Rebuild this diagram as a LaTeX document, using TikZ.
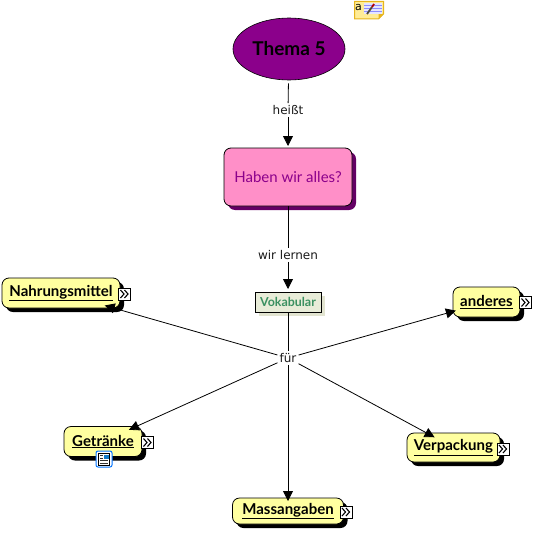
\documentclass[tikz,border=0pt]{standalone}
\usepackage{fontspec}
\setmainfont{DejaVu Sans}
\newfontfamily\comicfont{Lato}
\usetikzlibrary{arrows.meta,shadows,shapes.geometric}

\tikzset{
  linkword/.style={font=\fontsize{12}{14}\selectfont, inner sep=2pt, text=black!90},
  topicbox/.style={draw=black, line width=0.8pt, fill={rgb,255:red,255;green,255;blue,160}, rounded corners=7pt,
    inner sep=0pt, outer sep=0pt, font=\comicfont\fontsize{15}{17}\selectfont\bfseries,
    drop shadow={shadow xshift=4pt, shadow yshift=-4pt, fill=black, opacity=1}},
  conn/.style={draw=black, line width=0.8pt, -{Triangle[length=10pt,width=10pt]}},
  moreicon/.pic={
    \draw[black, fill=white, line width=0.8pt] (-6,-6) rectangle (6,6);
    \draw[black, line width=1.1pt] (-4,-4) -- (-0.5,0) -- (-4,4);
    \draw[black, line width=1.1pt] (0,-4) -- (3.5,0) -- (0,4);
  },
}

\begin{document}
\begin{tikzpicture}[x=1pt, y=-1pt]
  \useasboundingbox (0,0) rectangle (534,532);

  % --- top of the map ---
  \node[ellipse, draw=black, line width=0.6pt, fill={rgb,255:red,139;green,0;blue,139}, inner sep=0pt,
        minimum width=112pt, minimum height=62pt,
        font=\comicfont\fontsize{19}{22}\selectfont\bfseries] (thema) at (289,49) {Thema 5};
  \node[linkword] (heisst) at (288,110) {heißt};
  \node[draw=black, line width=0.8pt, fill={rgb,255:red,255;green,143;blue,200}, rounded corners=7pt,
        minimum width=128pt, minimum height=58pt, inner sep=0pt, outer sep=0pt,
        text={rgb,255:red,139;green,0;blue,139}, font=\comicfont\fontsize{15}{17}\selectfont,
        drop shadow={shadow xshift=4pt, shadow yshift=-4pt, fill={rgb,255:red,100;green,0;blue,100}, opacity=1}]
        (haben) at (288,177) {Haben wir alles?};
  \node[linkword] (lernen) at (288,255) {wir lernen};
  \node[draw=black, line width=0.7pt, fill={rgb,255:red,232;green,236;blue,216},
        minimum width=66pt, minimum height=20pt, inner sep=0pt, outer sep=0pt,
        text={rgb,255:red,58;green,144;blue,96}, font=\comicfont\fontsize{12.4}{14}\selectfont\bfseries,
        drop shadow={shadow xshift=4pt, shadow yshift=-4pt, fill={rgb,255:red,226;green,228;blue,208}, opacity=1}]
        (vokabular) at (288,302) {Vokabular};
  \node[linkword] (fuer) at (288,358) {für};

  % --- the five topics ---
  \node[topicbox, minimum width=118pt, minimum height=30pt] (nahrung) at (61,293) {\underline{Nahrungsmittel}};
  \node[topicbox, minimum width=78pt, minimum height=30pt] (getraenke) at (103,441.5) {\underline{Getränke}};
  \node[topicbox, minimum width=67pt, minimum height=30pt] (anderes) at (486.5,302) {\underline{anderes}};
  \node[topicbox, minimum width=93pt, minimum height=29pt] (verpackung) at (453.5,447.5) {\underline{Verpackung}};
  \node[topicbox, minimum width=111pt, minimum height=26pt] (massangaben) at (288,511) {\underline{Massangaben}};

  % --- connectors ---
  \draw[line width=0.8pt, shorten <=3pt] (thema) -- (heisst);
  \draw[line width=0.8pt] (haben) -- (lernen);
  \draw[line width=0.8pt] (vokabular) -- (fuer);
  \draw[conn, shorten >=2pt] (heisst) -- (haben);
  \draw[conn, shorten >=3pt] (lernen) -- (vokabular);
  \draw[conn, shorten >=-9pt] (fuer) -- (nahrung);
  \draw[conn, shorten >=-8pt] (fuer) -- (getraenke);
  \draw[conn, shorten >=-3pt] (fuer) -- (anderes);
  \draw[conn, shorten >=-9pt] (fuer) -- (verpackung);
  \draw[conn, shorten >=-3pt] (fuer) -- (massangaben);

  % --- expand marks ---
  \pic at (124.5,294) {moreicon};
  \pic at (147.5,442.5) {moreicon};
  \pic at (525.5,302.5) {moreicon};
  \pic at (503,449) {moreicon};
  \pic at (346,512) {moreicon};

  % --- page mark under Getränke ---
  \draw[blue!55!cyan, fill=white, line width=1pt, rounded corners=2pt] (96,451) rectangle (112,467);
  \draw[black, fill=white, line width=0.6pt] (98.5,453) rectangle (109.5,465);
  \fill[cyan!60!blue] (104,454.5) rectangle (108.5,458.5);
  \draw[black!80, line width=0.6pt] (100,455.5) -- (103,455.5) (100,458) -- (103,458)
    (100,460.5) -- (108,460.5) (100,462.8) -- (108,462.8);

  % --- note mark at the top ---
  \draw[draw={rgb,255:red,230;green,180;blue,30}, fill={rgb,255:red,255;green,236;blue,150}, line width=1pt]
    (354.5,1.5) -- (383.5,1.5) -- (383.5,14) -- (378.5,19) -- (354.5,19) -- cycle;
  \fill[fill={rgb,255:red,230;green,180;blue,30}] (378.5,19) -- (378.5,14) -- (383.5,14) -- cycle;
  \node[inner sep=0pt, font=\fontsize{11}{11}\selectfont] (notea) at (358.5,7) {a};
  \fill[blue!10!white] (363.5,3) rectangle (382,14);
  \draw[blue!45!white, line width=0.6pt] (363.5,5.5) -- (382,5.5) (363.5,8.5) -- (382,8.5) (363.5,11.5) -- (382,11.5);
  \draw[line width=1.8pt, draw=black!80!yellow] (367,14) -- (372,7);
  \draw[line width=1.8pt, draw=red!70!black] (372,7) -- (374,4);
\end{tikzpicture}
\end{document}
